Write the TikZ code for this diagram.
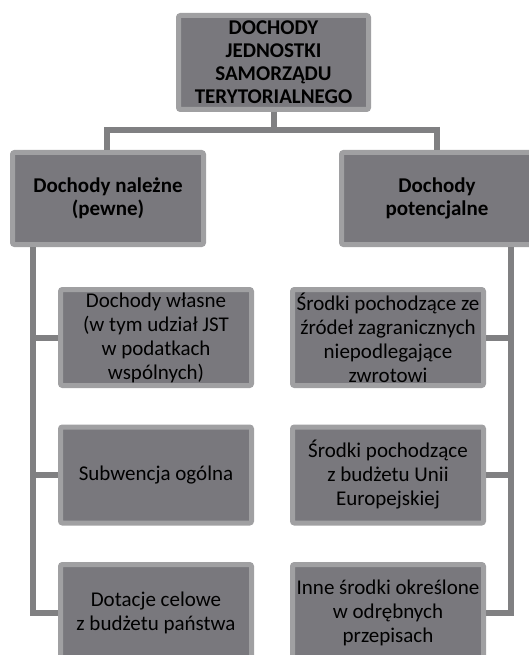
\documentclass[tikz,border=0pt]{standalone}
\usepackage{fontspec}
\setmainfont{Carlito}
\definecolor{boxfill}{RGB}{121,120,125}
\definecolor{boxline}{RGB}{160,160,162}
\definecolor{conn}{RGB}{128,128,130}
\begin{document}
\begin{tikzpicture}[x=1pt,y=-1pt,
  box/.style={draw=boxline, fill=boxfill, line width=5pt, rounded corners=2pt,
    align=center, inner sep=0pt, font=\fontsize{21}{24}\selectfont, text=black},
  head/.style={box, font=\fontsize{21}{23}\selectfont\bfseries, text=black},
  childbox/.style={box, minimum width=191pt, minimum height=96pt},
  link/.style={draw=conn, line width=6pt}]
\useasboundingbox (0,0) rectangle (529,655);
\clip (0,0) rectangle (529,655);
\node[head, minimum width=190pt, minimum height=94pt] (top) at (273.5,62.5)
  {DOCHODY\\JEDNOSTKI\\SAMORZĄDU\\TERYTORIALNEGO};
\node[head, minimum width=191pt, minimum height=92pt] (ml) at (108,198.5)
  {Dochody należne\\(pewne)};
\node[head, minimum width=191pt, minimum height=92pt] (mr) at (437,198.5)
  {Dochody\\potencjalne};
\node[childbox] (l1) at (156,337.5) {Dochody własne\\(w tym udział JST\\w podatkach\\wspólnych)};
\node[childbox] (l2) at (156,475) {Subwencja ogólna};
\node[childbox] (l3) at (156,612.5) {Dotacje celowe\\z budżetu państwa};
\node[childbox] (r1) at (388,337.5) {Środki pochodzące ze\\źródeł zagranicznych\\niepodlegające\\zwrotowi};
\node[childbox] (r2) at (388,475) {Środki pochodzące\\z budżetu Unii\\Europejskiej};
\node[childbox] (r3) at (388,612.5) {Inne środki określone\\w odrębnych\\przepisach};
\coordinate (hj) at (273.5,130);
\draw[link] (top.south) -- (hj);
\draw[link] (107,130) -- (437,130);
\draw[link] (107,127) -- (ml.north -| 107,0);
\draw[link] (437,127) -- (mr.north -| 437,0);
\draw[link] (33,247) |- (l3.west);
\draw[link] (33,337.5) -- (l1.west);
\draw[link] (33,475) -- (l2.west);
\draw[link] (511,247) |- (r3.east);
\draw[link] (511,337.5) -- (r1.east);
\draw[link] (511,475) -- (r2.east);
\end{tikzpicture}
\end{document}
